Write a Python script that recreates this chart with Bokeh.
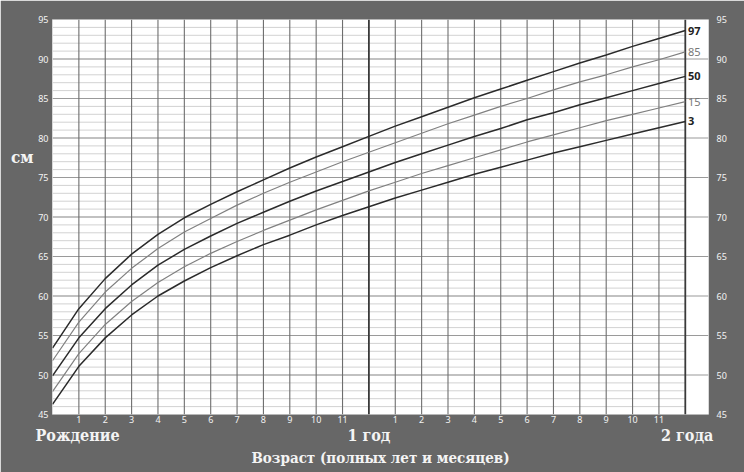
from bokeh.plotting import figure
from bokeh.models import FixedTicker, Range1d, LinearAxis
from bokeh.core.properties import value
from bokeh.embed import file_html
from bokeh.resources import INLINE

# ---- data (WHO length-for-age, boys, 0-24 months) ----
months = list(range(25))
p3 = [46.3, 51.1, 54.7, 57.6, 60.0, 61.9, 63.6, 65.1, 66.5, 67.7, 69.0, 70.2, 71.3,
      72.4, 73.4, 74.4, 75.4, 76.3, 77.2, 78.1, 78.9, 79.7, 80.5, 81.3, 82.1]
p15 = [47.9, 52.7, 56.4, 59.3, 61.7, 63.7, 65.4, 66.9, 68.3, 69.6, 70.9, 72.1, 73.3,
       74.4, 75.5, 76.5, 77.5, 78.5, 79.5, 80.4, 81.3, 82.2, 83.0, 83.8, 84.6]
p50 = [49.9, 54.7, 58.4, 61.4, 63.9, 65.9, 67.6, 69.2, 70.6, 72.0, 73.3, 74.5, 75.7,
       76.9, 78.0, 79.1, 80.2, 81.2, 82.3, 83.2, 84.2, 85.1, 86.0, 86.9, 87.8]
p85 = [51.8, 56.7, 60.5, 63.5, 66.0, 68.1, 69.8, 71.5, 73.0, 74.4, 75.7, 77.0, 78.2,
       79.4, 80.6, 81.8, 82.9, 84.0, 85.0, 86.1, 87.1, 88.0, 89.0, 89.9, 90.9]
p97 = [53.4, 58.4, 62.2, 65.3, 67.8, 69.9, 71.6, 73.2, 74.7, 76.2, 77.6, 78.9, 80.2,
       81.5, 82.7, 83.9, 85.1, 86.2, 87.3, 88.4, 89.5, 90.5, 91.6, 92.6, 93.6]

dark_labels = ["97", "50", "3"]
gray_labels = ["85", "15"]
y_ticks = list(range(45, 100, 5))
cm_minor = list(range(45, 96))
month_ticks = [m for m in range(1, 24) if m != 12]
month_tick_labels = {m: str(m if m < 12 else m - 12) for m in month_ticks}
age_ticks = [0.95, 12, 24.07]
age_tick_labels = {0.95: "Рождение", 12: "1 год", 24.07: "2 года"}
unit_tick = [77.6]
unit_label = {77.6: "см"}
x_title = "Возраст (полных лет и месяцев)"

BG = "#676767"
WHITE_TXT = "#f4f4f4"
SERIF = "DejaVu Serif Condensed"

p = figure(width=744, height=472, output_backend="svg", toolbar_location=None,
           x_range=Range1d(0, 24.88), y_range=Range1d(45, 95),
           min_border_left=52, min_border_right=36, min_border_top=19, min_border_bottom=58)
p.background_fill_color = "white"
p.border_fill_color = BG
p.outline_line_color = None
p.xgrid.visible = False
p.ygrid.visible = False

# minor 1-cm lines (up to 24 months)
p.segment(x0=0, x1=24, y0=cm_minor, y1=cm_minor, line_color="#d2d2d2", line_width=1)
# 5-cm lines (full width)
p.segment(x0=0, x1=24.88, y0=y_ticks, y1=y_ticks, line_color="#9a9a9a", line_width=1.2)
# month lines
p.segment(x0=month_ticks, x1=month_ticks, y0=45, y1=95, line_color="#6e6e6e", line_width=1.1)
p.segment(x0=[12, 24], x1=[12, 24], y0=45, y1=95, line_color="#3a3a3a", line_width=1.8)

# curves
p.line(months, p3, line_color="#2b2b2b", line_width=1.5)
p.line(months, p15, line_color="#808080", line_width=1.2)
p.line(months, p50, line_color="#2b2b2b", line_width=1.5)
p.line(months, p85, line_color="#808080", line_width=1.2)
p.line(months, p97, line_color="#2b2b2b", line_width=1.5)

# curve labels
p.text(x=[24.1] * 3, y=[p97[-1], p50[-1], p3[-1]], text=dark_labels,
       text_font=value("Noto Sans"), text_font_size="11px", text_font_style="bold",
       text_color="#222222", text_baseline="middle", text_align="left")
p.text(x=[24.1] * 2, y=[p85[-1], p15[-1]], text=gray_labels,
       text_font=value("Noto Sans"), text_font_size="11px",
       text_color="#777777", text_baseline="middle", text_align="left")

# axes: numeric tick labels
p.yaxis.ticker = FixedTicker(ticks=y_ticks)
p.yaxis.major_label_standoff = 4
right = LinearAxis(ticker=FixedTicker(ticks=y_ticks))
p.add_layout(right, "right")
right.major_label_standoff = 8
p.xaxis.ticker = FixedTicker(ticks=month_ticks)
p.xaxis.major_label_overrides = month_tick_labels
p.xaxis.major_label_standoff = 1
for ax in p.axis:
    ax.major_label_text_font = "Noto Sans"
    ax.major_label_text_font_size = "9px"

# second bottom axis: Рождение / 1 год / 2 года + title
age_axis = LinearAxis(ticker=FixedTicker(ticks=age_ticks),
                      major_label_overrides=age_tick_labels,
                      axis_label=x_title)
p.add_layout(age_axis, "below")
age_axis.major_label_standoff = 0
age_axis.major_label_text_font = SERIF
age_axis.major_label_text_font_style = "bold"
age_axis.major_label_text_font_size = "16px"
age_axis.axis_label_standoff = 1
age_axis.axis_label_text_font = SERIF
age_axis.axis_label_text_font_style = "bold"
age_axis.axis_label_text_font_size = "15px"
age_axis.axis_label_text_color = WHITE_TXT

# second left axis: "см"
unit_axis = LinearAxis(ticker=FixedTicker(ticks=unit_tick), major_label_overrides=unit_label)
p.add_layout(unit_axis, "left")
unit_axis.major_label_standoff = 2
unit_axis.major_label_text_font = SERIF
unit_axis.major_label_text_font_style = "bold"
unit_axis.major_label_text_font_size = "17px"

for ax in p.axis:
    ax.axis_line_color = None
    ax.major_tick_line_color = None
    ax.minor_tick_line_color = None
    ax.major_tick_out = 0
    ax.major_tick_in = 0
    ax.minor_tick_out = 0
    ax.major_label_text_color = WHITE_TXT

open("out.html", "w").write(file_html(p, INLINE))
